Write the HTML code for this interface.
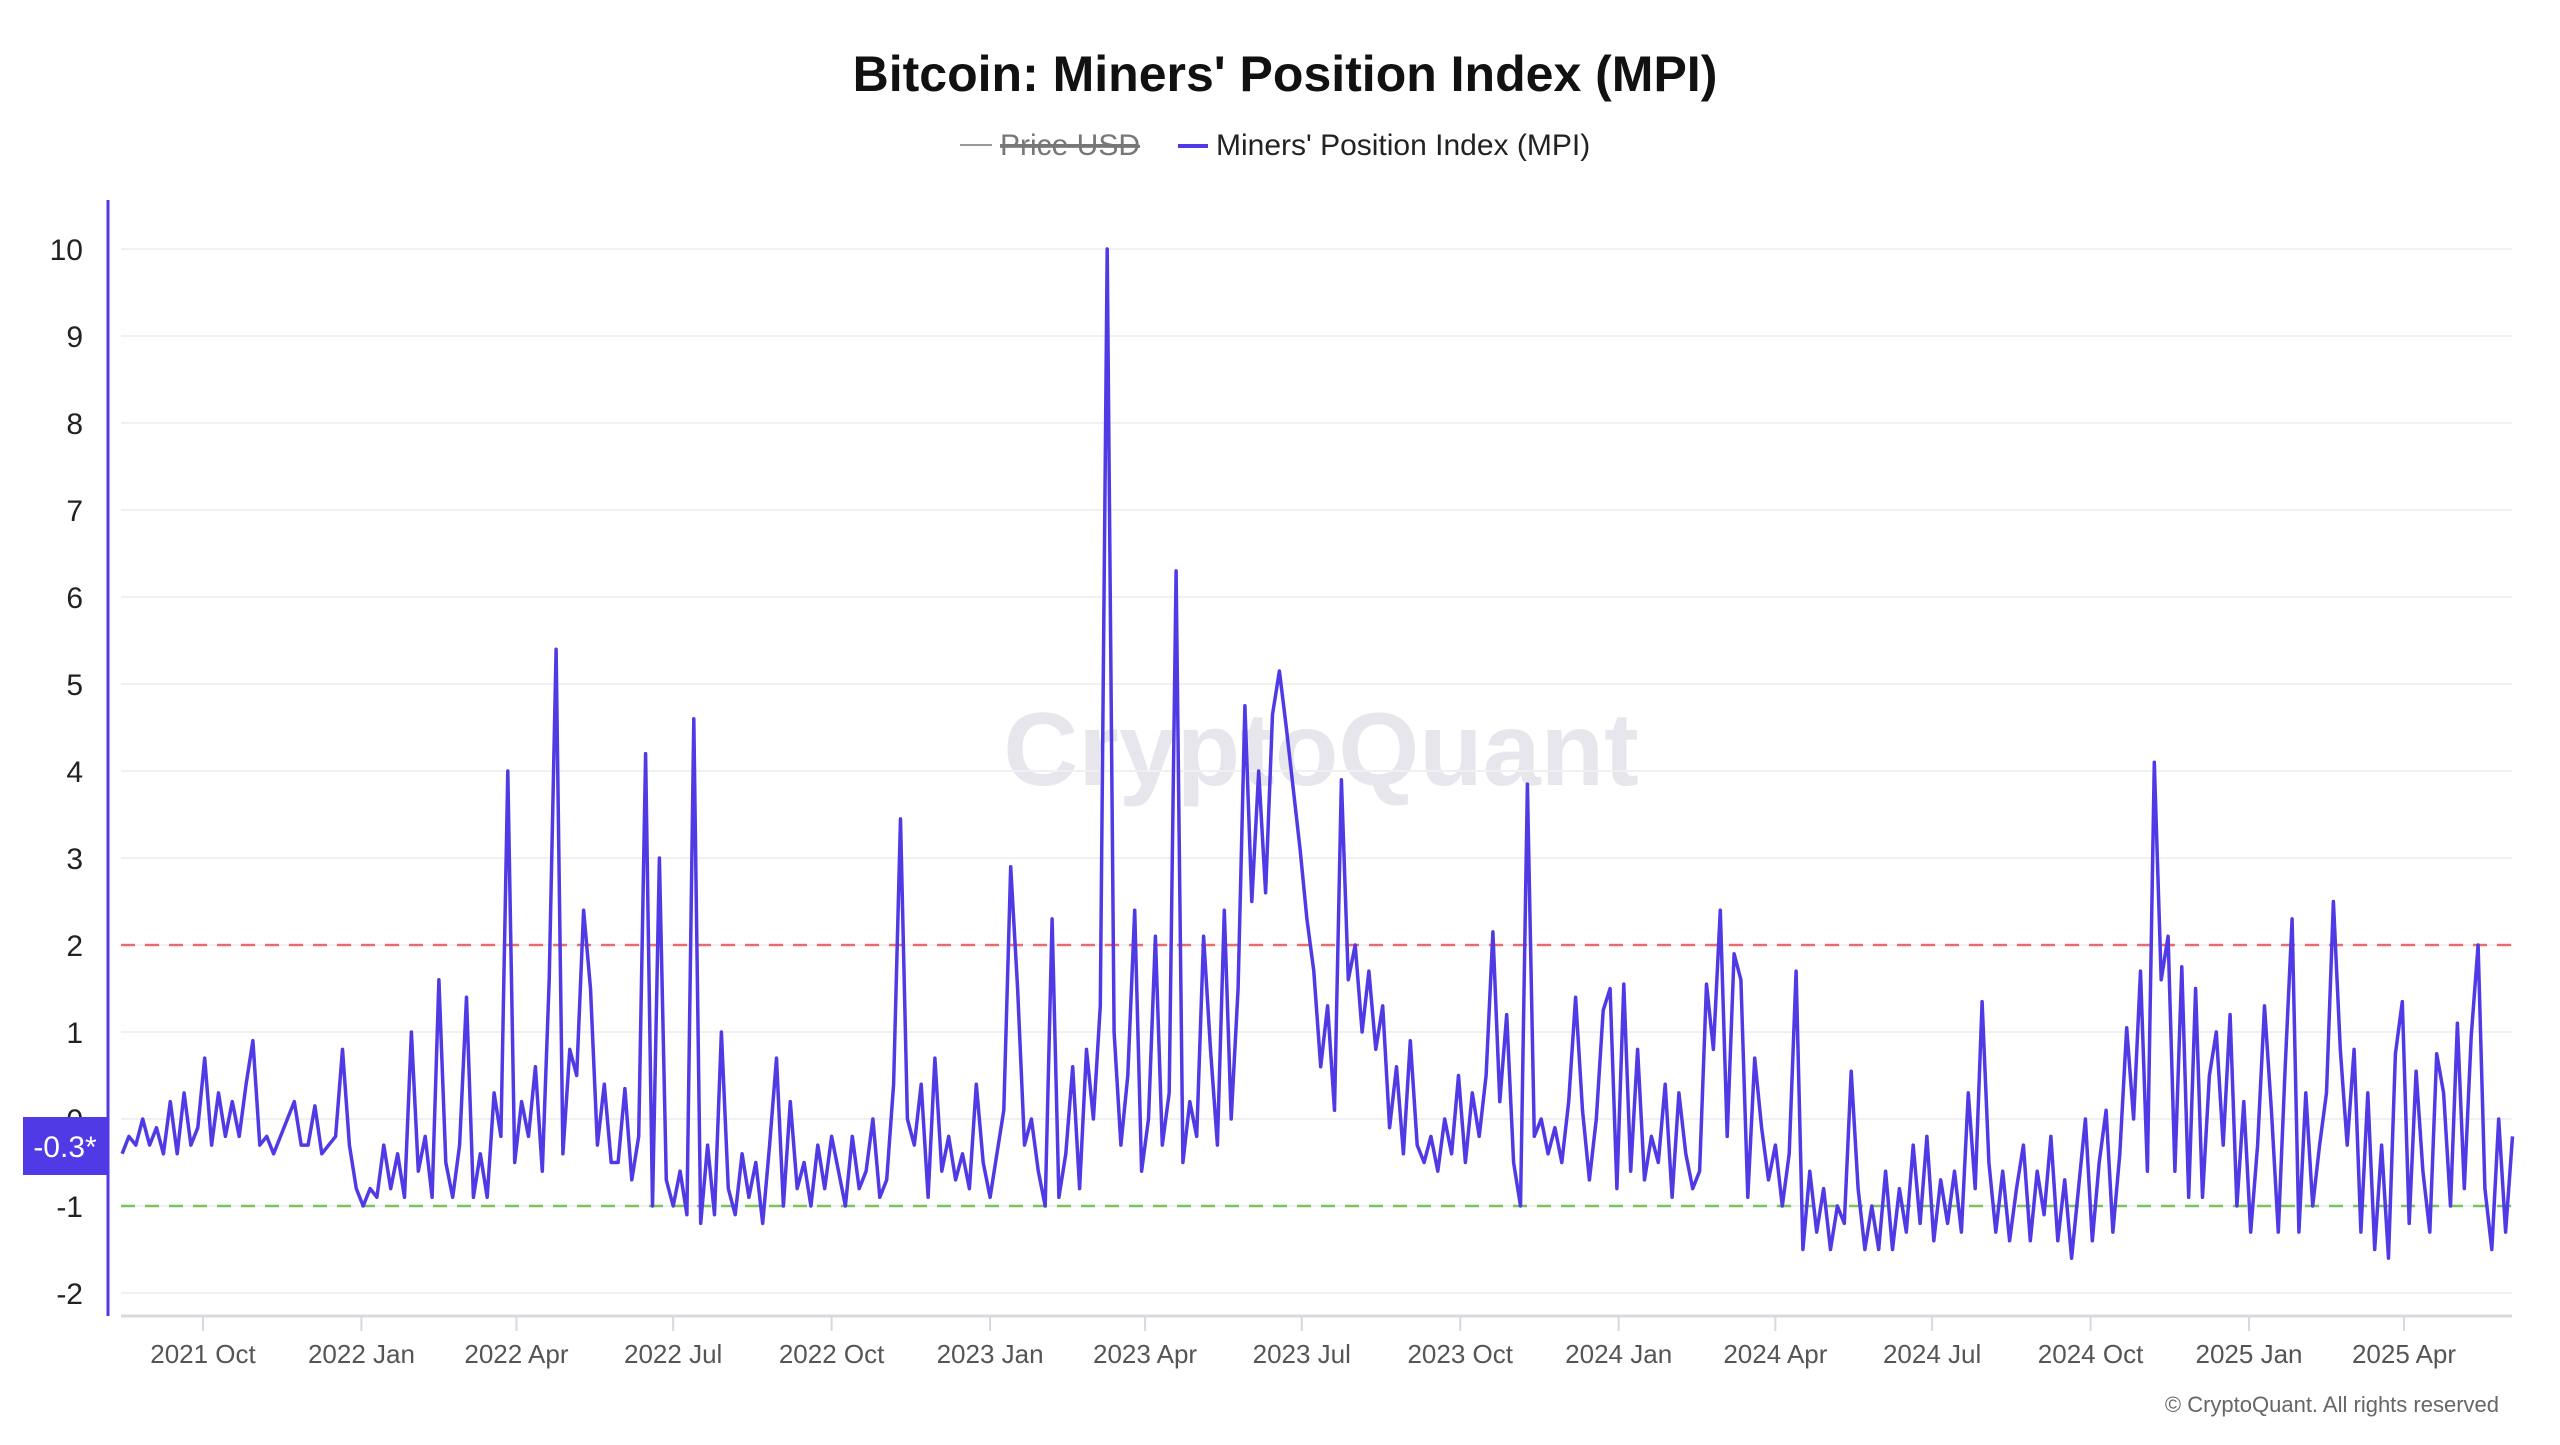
<!DOCTYPE html>
<html><head><meta charset="utf-8">
<style>
html,body{margin:0;padding:0;background:#fff;}
body{width:2560px;height:1440px;overflow:hidden;font-family:"Liberation Sans",sans-serif;}
</style></head>
<body>
<svg id="chart" width="2560" height="1440" viewBox="0 0 2560 1440" xmlns="http://www.w3.org/2000/svg" font-family="Liberation Sans, sans-serif">
  <rect x="0" y="0" width="2560" height="1440" fill="#fff"/>
  <text x="1285" y="91" text-anchor="middle" font-size="50" font-weight="bold" fill="#111">Bitcoin: Miners' Position Index (MPI)</text>
  <g>
    <g>
      <line x1="960" y1="145" x2="992" y2="145" stroke="#999" stroke-width="2"/>
      <text x="1000" y="155" font-size="30" fill="#777" text-decoration="line-through">Price USD</text>
      <line x1="1000" y1="145" x2="1137" y2="145" stroke="#777" stroke-width="2"/>
    </g>
    <g>
      <line x1="1178" y1="146" x2="1208" y2="146" stroke="#4f3ae6" stroke-width="4"/>
      <text x="1216" y="155" font-size="30" fill="#222">Miners' Position Index (MPI)</text>
    </g>
  </g>
  <text x="1321" y="785" text-anchor="middle" font-size="104" font-weight="bold" fill="#e4e2ea" fill-opacity="0.85">CryptoQuant</text>
  <g id="grid"></g>
  <g id="xaxis"></g>
  <g id="yaxis"></g>
  <g id="refs"></g>
  <g id="series"></g>
  <g>
    <rect x="23" y="1117" width="85" height="58" fill="#4f3ae6"/>
    <text x="65" y="1157" text-anchor="middle" font-size="30" fill="#fff">-0.3*</text>
  </g>
  <text x="2499" y="1412" text-anchor="end" font-size="22" fill="#666">© CryptoQuant. All rights reserved</text>
</svg>
<script>
const startDate = "2021-08-15";
const stepDays = 4;
const mpiValues = [
-0.4,-0.2,-0.3,0.0,-0.3,-0.1,-0.4,0.2,-0.4,0.3,-0.3,-0.1,
0.7,-0.3,0.3,-0.2,0.2,-0.2,0.4,0.9,
-0.3,-0.2,-0.4,-0.2,0.0,0.2,-0.3,-0.3,0.15,-0.4,-0.3,-0.2,
0.8,-0.3,-0.8,-1.0,-0.8,-0.9,-0.3,-0.8,-0.4,-0.9,1.0,-0.6,-0.2,-0.9,1.6,-0.5,-0.9,-0.3,
1.4,-0.9,-0.4,-0.9,0.3,-0.2,4.0,-0.5,0.2,-0.2,0.6,-0.6,1.6,5.4,-0.4,0.8,0.5,2.4,1.5,-0.3,0.4,-0.5,
-0.5,0.35,-0.7,-0.2,4.2,-1.0,3.0,-0.7,-1.0,-0.6,-1.1,4.6,-1.2,-0.3,-1.1,1.0,-0.8,-1.1,-0.4,-0.9,
-0.5,-1.2,-0.3,0.7,-1.0,0.2,-0.8,-0.5,-1.0,-0.3,-0.8,-0.2,-0.6,-1.0,-0.2,-0.8,-0.6,0.0,-0.9,-0.7,
0.4,3.45,0.0,-0.3,0.4,-0.9,0.7,-0.6,-0.2,-0.7,-0.4,-0.8,0.4,-0.5,-0.9,-0.4,0.1,2.9,1.5,-0.3,
0.0,-0.6,-1.0,2.3,-0.9,-0.4,0.6,-0.8,0.8,0.0,1.3,10.0,
1.0,-0.3,0.5,2.4,-0.6,0.0,2.1,-0.3,0.3,6.3,-0.5,0.2,-0.2,2.1,0.8,-0.3,2.4,0.0,1.5,4.75,
2.5,4.0,2.6,4.65,5.15,4.5,3.8,3.1,2.3,1.7,0.6,1.3,0.1,3.9,1.6,2.0,1.0,1.7,0.8,1.3,
-0.1,0.6,-0.4,0.9,-0.3,-0.5,-0.2,-0.6,0.0,-0.4,0.5,-0.5,0.3,-0.2,0.5,2.15,0.2,1.2,-0.5,-1.0,
3.85,-0.2,0.0,-0.4,-0.1,-0.5,0.2,1.4,0.1,-0.7,0.0,1.25,1.5,-0.8,
1.55,-0.6,0.8,-0.7,-0.2,-0.5,0.4,-0.9,0.3,-0.4,-0.8,-0.6,1.55,0.8,2.4,-0.2,1.9,1.6,-0.9,0.7,
-0.1,-0.7,-0.3,-1.0,-0.4,1.7,-1.5,-0.6,-1.3,-0.8,-1.5,-1.0,-1.2,0.55,-0.8,-1.5,-1.0,-1.5,-0.6,-1.5,
-0.8,-1.3,-0.3,-1.2,-0.2,-1.4,-0.7,-1.2,-0.6,-1.3,0.3,-0.8,1.35,-0.5,-1.3,-0.6,-1.4,-0.8,-0.3,-1.4,
-0.6,-1.1,-0.2,-1.4,-0.7,-1.6,-0.8,0.0,-1.4,-0.5,0.1,-1.3,-0.4,
1.05,0.0,1.7,-0.6,4.1,1.6,2.1,-0.6,1.75,-0.9,1.5,-0.9,0.5,1.0,-0.3,1.2,-1.0,0.2,-1.3,-0.3,
1.3,0.1,-1.3,0.6,2.3,-1.3,0.3,-1.0,-0.3,0.3,2.5,0.8,-0.3,0.8,-1.3,0.3,-1.5,-0.3,-1.6,0.75,
1.35,-1.2,0.55,-0.6,-1.3,0.75,0.3,-1.0,1.1,-0.8,0.95,2.0,-0.8,-1.5,0.0,-1.3,-0.2
];
const yTickValues = [-2,-1,0,1,2,3,4,5,6,7,8,9,10];
const xTickLabels = ["2021 Oct","2022 Jan","2022 Apr","2022 Jul","2022 Oct","2023 Jan","2023 Apr","2023 Jul","2023 Oct","2024 Jan","2024 Apr","2024 Jul","2024 Oct","2025 Jan","2025 Apr"];
const xTickDates = ["2021-10-01","2022-01-01","2022-04-01","2022-07-01","2022-10-01","2023-01-01","2023-04-01","2023-07-01","2023-10-01","2024-01-01","2024-04-01","2024-07-01","2024-10-01","2025-01-01","2025-04-01"];
const refLevels = [2,-1];

const NS="http://www.w3.org/2000/svg";
const DAY=86400000;
const d0=Date.parse("2021-10-01"), d1=Date.parse("2025-04-01");
const px0=203, px1=2404;
function xScale(t){return px0+(t-d0)/(d1-d0)*(px1-px0);}
function yScale(v){return 249+(10-v)*87;}
const plotL=121, plotR=2512;
function mk(tag,attrs,parent){const e=document.createElementNS(NS,tag);for(const k in attrs)e.setAttribute(k,attrs[k]);parent.appendChild(e);return e;}

const grid=document.getElementById('grid');
const yaxis=document.getElementById('yaxis');
yTickValues.forEach(v=>{
  const y=yScale(v);
  const g=mk('line',{x1:plotL,x2:plotR,y1:y,y2:y,stroke:'#f0f0f2','stroke-width':2},grid);
  
  
  const t=mk('text',{x:83,y:y+11,'text-anchor':'end','font-size':30,fill:'#222'},yaxis);
  t.textContent=String(v);
  
  
});
const yl=mk('line',{x1:108,x2:108,y1:200,y2:1316,stroke:'#4f3ae6','stroke-width':3},yaxis);



const xaxis=document.getElementById('xaxis');
const xl=mk('line',{x1:plotL,x2:plotR,y1:1316,y2:1316,stroke:'#d8d8de','stroke-width':3},xaxis);


xTickDates.forEach((d,i)=>{
  const x=xScale(Date.parse(d));
  const tk=mk('line',{x1:x,x2:x,y1:1316,y2:1331,stroke:'#d8d8de','stroke-width':2},xaxis);
  
  
  const t=mk('text',{x:x,y:1363,'text-anchor':'middle','font-size':26,fill:'#555'},xaxis);
  t.textContent=xTickLabels[i];
  
  
});

const refs=document.getElementById('refs');
const refColors=['#ee6b6b','#79c25c'];
refLevels.forEach((v,i)=>{
  const y=yScale(v);
  const l=mk('line',{x1:plotL,x2:plotR,y1:y,y2:y,stroke:refColors[i],'stroke-width':2.5,'stroke-dasharray':'14 10'},refs);
  
  
});

const series=document.getElementById('series');
const t0=Date.parse(startDate);
const pts=mpiValues.map((v,i)=>xScale(t0+i*stepDays*DAY).toFixed(1)+','+yScale(v).toFixed(1)).join(' ');
const pl=mk('polyline',{points:pts,fill:'none',stroke:'#4f3ae6','stroke-width':3.5,'stroke-linejoin':'round'},series);


</script>
</body></html>
